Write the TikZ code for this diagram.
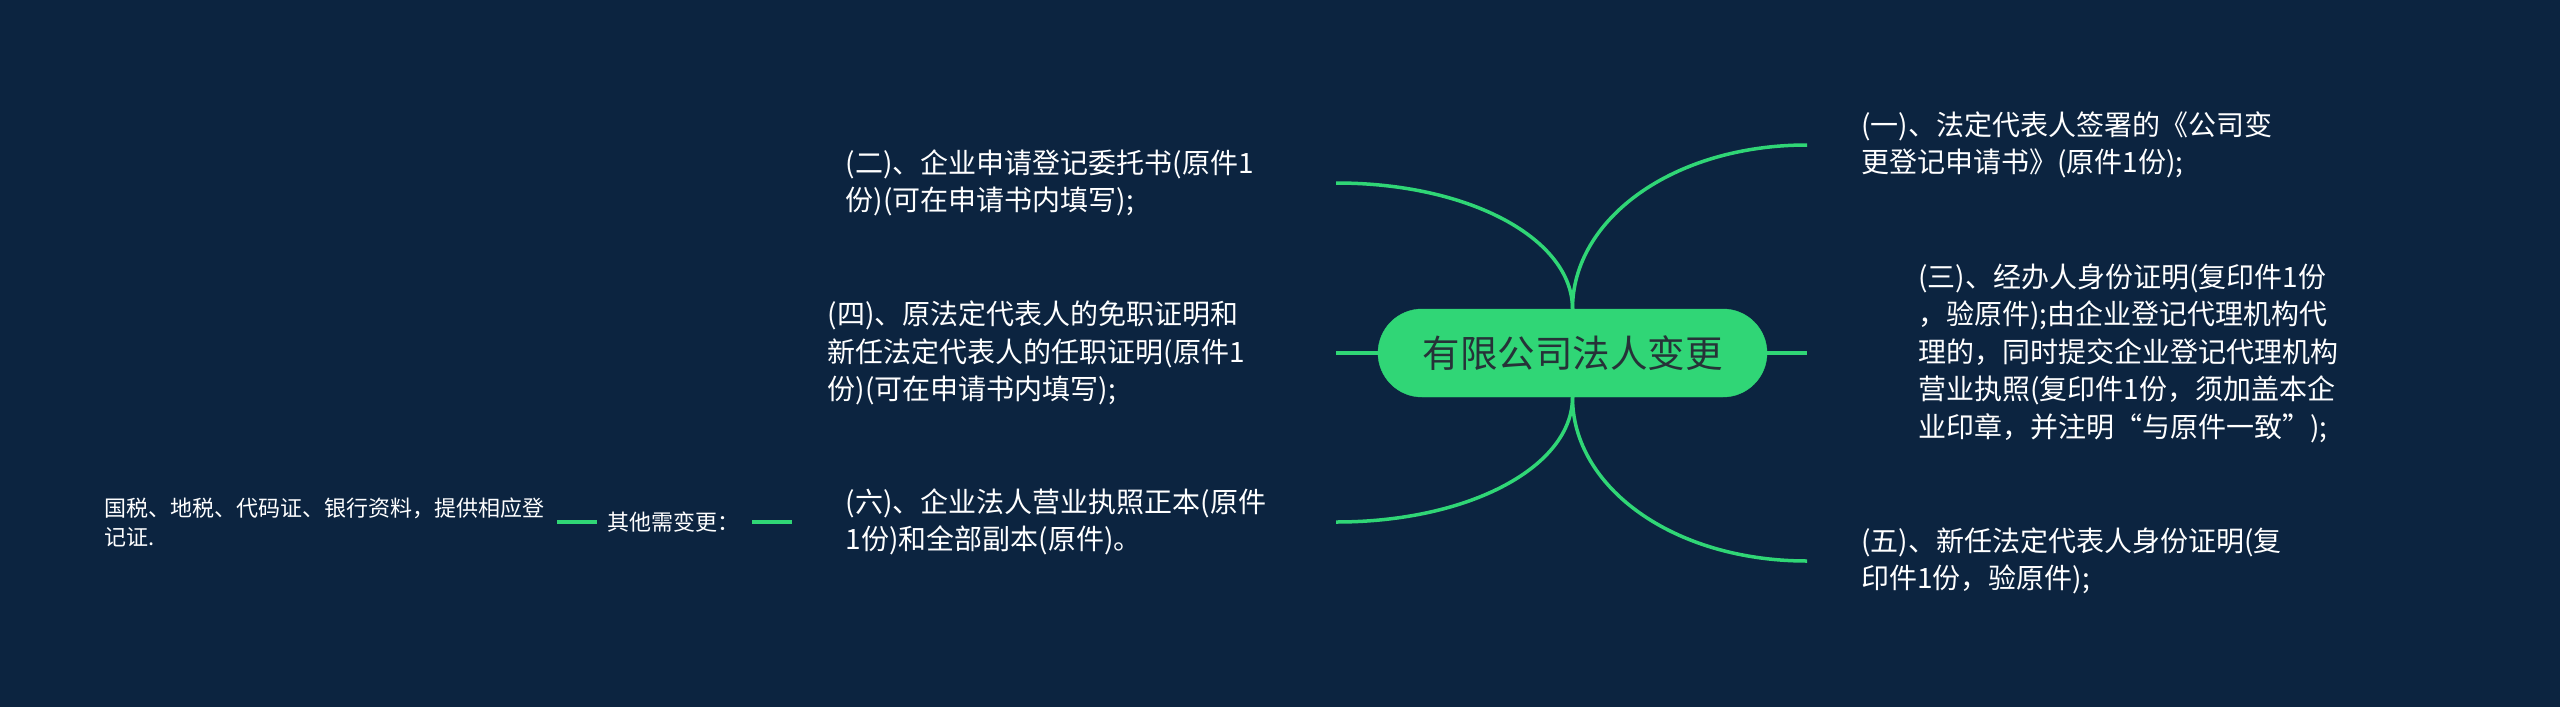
\documentclass[tikz,border=0pt]{standalone}
\usepackage{fontspec}
\setmainfont{Noto Sans CJK SC}
\usetikzlibrary{calc}
\definecolor{bg}{RGB}{12,36,64}
\definecolor{gr}{RGB}{48,214,118}
\definecolor{dk}{RGB}{38,50,56}
\begin{document}
\begin{tikzpicture}[x=1pt,y=-1pt,
  rootbox/.style={fill=gr, draw=gr, rounded corners=44pt, minimum width=389pt, minimum height=88pt,
    text=dk, font=\fontsize{37.5}{40}\selectfont, inner sep=0pt},
  txt/.style={text=white, font=\fontsize{28}{37.5}\selectfont, align=left, inner ysep=0pt, inner xsep=54pt},
  small/.style={text=white, font=\fontsize{22}{29}\selectfont, align=left, inner ysep=0pt, inner xsep=11pt},
  conn/.style={draw=gr, line width=3.5pt},
  curv/.style={to path={.. controls ($(\tikztostart)!0.55!(\tikztostart|-\tikztotarget)$) and ($(\tikztotarget)!0.57!(\tikztostart|-\tikztotarget)$) .. (\tikztotarget)}}
]
\fill[bg] (0,0) rectangle (2560,707);
\useasboundingbox (0,0) rectangle (2560,707);

\node[rootbox] (root) at (1572.5,353) {有限公司法人变更};

% left side
\node[txt, text width=436pt, anchor=east] (n2) at (1336,183) {(二)、企业申请登记委托书(原件1\\份)(可在申请书内填写);};
\node[txt, text width=454pt, anchor=east] (n4) at (1336,353) {(四)、原法定代表人的免职证明和\\新任法定代表人的任职证明(原件1\\份)(可在申请书内填写);};
\node[txt, text width=436pt, anchor=east] (n6) at (1336,522) {(六)、企业法人营业执照正本(原件\\1份)和全部副本(原件)。};
\node[small, text width=133pt, anchor=east] (q) at (752,522) {其他需变更：};
\node[small, text width=441pt, anchor=east] (g) at (557,522) {国税、地税、代码证、银行资料，提供相应登\\记证.};

% right side
\node[txt, text width=440pt, anchor=west] (n1) at (1807,145) {(一)、法定代表人签署的《公司变\\更登记申请书》(原件1份);};
\node[txt, text width=440pt, anchor=west, inner xsep=111pt] (n3) at (1807,353) {(三)、经办人身份证明(复印件1份\\，验原件);由企业登记代理机构代\\理的，同时提交企业登记代理机构\\营业执照(复印件1份，须加盖本企\\业印章，并注明“与原件一致”);};
\node[txt, text width=440pt, anchor=west] (n5) at (1807,561) {(五)、新任法定代表人身份证明(复\\印件1份，验原件);};

% connectors
\draw[conn] (root.north) to[curv] (n1.west);
\draw[conn] (root.north) to[curv] (n2.east);
\draw[conn] (root.south) to[curv] (n5.west);
\draw[conn] (root.south) to[curv] (n6.east);
\draw[conn] (root.west) -- (n4.east);
\draw[conn] (root.east) -- (n3.west);
\draw[conn] (n6.west) -- (q.east);
\draw[conn] (q.west) -- (g.east);
\end{tikzpicture}
\end{document}
